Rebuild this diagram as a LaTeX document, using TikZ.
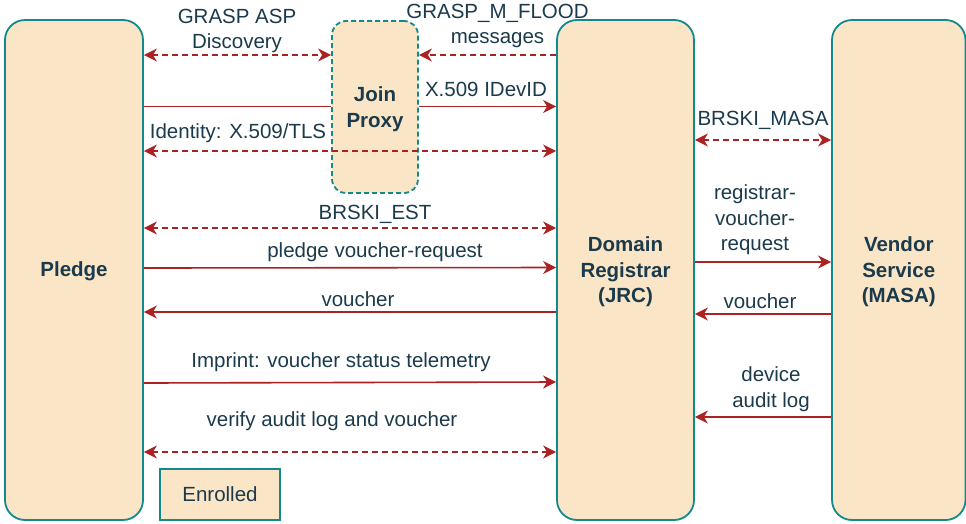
\documentclass[tikz,border=0pt]{standalone}
\usepackage{fontspec}
\setmainfont{Liberation Sans}
\usetikzlibrary{arrows.meta}
\definecolor{boxfill}{HTML}{FAE5C7}
\definecolor{boxline}{HTML}{128A8C}
\definecolor{arrowc}{HTML}{AA2222}
\definecolor{txt}{HTML}{1B3A4B}
\begin{document}
\begin{tikzpicture}[x=1pt,y=-1pt,
  every node/.style={font=\fontsize{20.5}{25.5}\selectfont, text=txt},
  actor/.style={draw=boxline, fill=boxfill, line width=1.8pt, rounded corners=20pt,
    minimum width=#1, minimum height=500pt, inner sep=0pt},
  proxybox/.style={draw=boxline, fill=boxfill, line width=1.8pt, rounded corners=14pt,
    dash pattern=on 5pt off 3pt, minimum width=86pt, minimum height=172pt, inner sep=0pt},
  statebox/.style={draw=boxline, fill=boxfill, line width=1.8pt, minimum width=120pt,
    minimum height=51pt, inner sep=0pt},
  title/.style={inner sep=0pt, align=center, font=\fontsize{20.5}{25.5}\selectfont\bfseries},
  lbl/.style={inner sep=0pt, align=center},
  msg/.style={draw=arrowc, line width=1.6pt, -{Stealth[length=13pt,width=13pt,inset=4pt]}},
  msgplain/.style={draw=arrowc, line width=1.6pt},
  msgboth/.style={draw=arrowc, line width=1.6pt, dash pattern=on 6pt off 4pt,
    {Stealth[length=13pt,width=13pt,inset=4pt]}-{Stealth[length=13pt,width=13pt,inset=4pt]}},
  msgdash/.style={draw=arrowc, line width=1.6pt, dash pattern=on 6pt off 4pt,
    -{Stealth[length=13pt,width=13pt,inset=4pt]}}
]
\useasboundingbox (0,0) rectangle (966,523);

\node[actor=138pt] (pledge) at (74,270) {};
\node[title] (pledgetxt) at (74,271) {Pledge};
\node[proxybox] (proxy) at (375,107) {};
\node[title] (proxytxt) at (375,109) {Join\\Proxy};
\node[actor=137pt] (reg) at (625.5,270) {};
\node[title] (regtxt) at (625.5,272) {Domain\\Registrar\\(JRC)};
\node[actor=133.5pt] (masa) at (898.75,270) {};
\node[title] (masatxt) at (898.75,272) {Vendor\\Service\\(MASA)};
\node[statebox] (enrolled) at (220,494.5) {Enrolled};

% GRASP ASP Discovery
\draw[msgboth] (pledge.east |- 0,55) -- (proxy.west |- 0,55);
\node[lbl] (l1) at (237,31) {GRASP ASP\\Discovery};
% GRASP_M_FLOOD
\draw[msgdash] (reg.west |- 0,55) -- (proxy.east |- 0,55);
\node[lbl] (l2) at (497.5,26) {GRASP\_M\_FLOOD\\messages};
% IDevID
\draw[msgplain] (pledge.east |- 0,106.5) -- (proxy.west |- 0,106.5);
\draw[msg] (proxy.east |- 0,106.5) -- (reg.west |- 0,106.5);
\node[lbl] (l3) at (486,89) {X.509 IDevID};
% Identity
\draw[msgboth] (pledge.east |- 0,151) -- (reg.west |- 0,151);
\node[lbl] (l4) at (238,133) {Identity: X.509/TLS};
% BRSKI_MASA
\draw[msgboth] (reg.east |- 0,140) -- (masa.west |- 0,140);
\node[lbl] (l5) at (763,120) {BRSKI\_MASA};
% BRSKI_EST
\draw[msgboth] (pledge.east |- 0,228) -- (reg.west |- 0,228);
\node[lbl] (l6) at (375,214) {BRSKI\_EST};
% pledge voucher-request
\draw[msg] (pledge.east |- 0,268) -- (reg.west |- 0,267.5);
\node[lbl] (l7) at (375,252) {pledge voucher-request};
% registrar-voucher-request
\draw[msg] (reg.east |- 0,262) -- (masa.west |- 0,262);
\node[lbl] (l8) at (755,220) {registrar-\\voucher-\\request};
% voucher left
\draw[msg] (reg.west |- 0,312) -- (pledge.east |- 0,312);
\node[lbl] (l9) at (358,299) {voucher};
% voucher right
\draw[msg] (masa.west |- 0,314) -- (reg.east |- 0,314);
\node[lbl] (l10) at (760,301) {voucher};
% Imprint
\draw[msg] (pledge.east |- 0,383) -- (reg.west |- 0,382);
\node[lbl] (l11) at (341,362) {Imprint: voucher status telemetry};
% device audit log
\draw[msg] (masa.west |- 0,417) -- (reg.east |- 0,417);
\node[lbl] (l12) at (771,389) {device\\audit log};
% verify audit log
\draw[msgboth] (pledge.east |- 0,452) -- (reg.west |- 0,452);
\node[lbl] (l13) at (332,421) {verify audit log and voucher};
\end{tikzpicture}
\end{document}
